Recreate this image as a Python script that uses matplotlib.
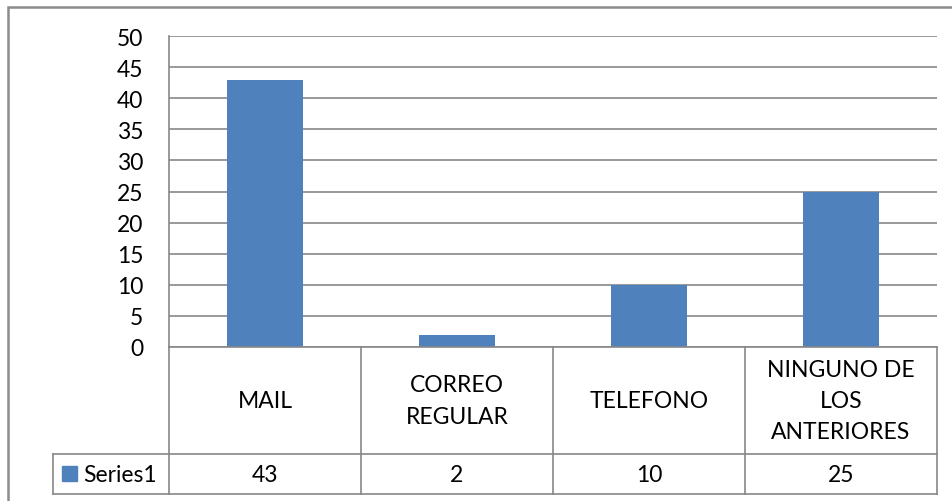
import matplotlib
matplotlib.use("Agg")
from matplotlib import pyplot as plt
from matplotlib.patches import Rectangle

categories = ["MAIL", "CORREO\nREGULAR", "TELEFONO", "NINGUNO DE\nLOS\nANTERIORES"]
values = [43, 2, 10, 25]
series_name = "Series1"
yticks = [0, 5, 10, 15, 20, 25, 30, 35, 40, 45, 50]

W, H = 953, 502
bar_color = "#4F81BD"
grid_color = "#878787"
fs = 16.5

plt.rcParams["font.family"] = ["Lato", "DejaVu Sans"]

fig = plt.figure(figsize=(W / 100, H / 100), dpi=100)


def fx(px):
    return px / W


def fy(py):
    return 1 - py / H


# plot area in pixels
left, right, top, bottom = 169, 937, 37, 348
row1, row2 = 455, 495
leg_left = 53

ax = fig.add_axes([fx(left), fy(bottom), fx(right) - fx(left), fy(top) - fy(bottom)])
x = list(range(len(categories)))
ax.bar(x, values, width=0.4, color=bar_color, zorder=3)
ax.set_xlim(-0.5, len(categories) - 0.5)
ax.set_ylim(0, 50)
ax.set_yticks(yticks)
ax.set_yticklabels([str(v) for v in yticks], fontsize=fs)
ax.tick_params(axis="y", length=0, pad=18.5)
ax.set_xticks([])
ax.yaxis.grid(True, color=grid_color, linewidth=1.2, zorder=0)
for s in ["top", "right", "bottom"]:
    ax.spines[s].set_visible(False)
ax.spines["left"].set_color(grid_color)
ax.spines["left"].set_linewidth(1.2)

# outer chart border (extends off the right/bottom of the image)
fig.patches.append(Rectangle((fx(8), fy(H + 20)), 1.2, fy(8) - fy(H + 20),
                             transform=fig.transFigure, fill=False,
                             edgecolor="#8c8c8c", linewidth=1.8))

# data table
lw = 1.2
edges = [left + (right - left) * i / len(categories) for i in range(len(categories) + 1)]


def hline(x0, x1, y):
    fig.add_artist(plt.Line2D([fx(x0), fx(x1)], [fy(y), fy(y)], color=grid_color, linewidth=lw))


def vline(x0, y0, y1):
    fig.add_artist(plt.Line2D([fx(x0), fx(x0)], [fy(y0), fy(y1)], color=grid_color, linewidth=lw))


hline(left, right, bottom)
hline(leg_left, right, row1)
hline(leg_left, right, row2)
vline(leg_left, row1, row2)
for e in edges:
    vline(e, bottom, row2)

for i, (cat, val) in enumerate(zip(categories, values)):
    cx = (edges[i] + edges[i + 1]) / 2
    fig.text(fx(cx), fy((bottom + row1) / 2), cat, ha="center", va="center",
             fontsize=fs, multialignment="center", linespacing=1.6)
    fig.text(fx(cx), fy((row1 + row2) / 2), str(val), ha="center", va="center", fontsize=fs)

fig.patches.append(Rectangle((fx(62), fy(482)), fx(15), fy(467) - fy(482),
                             transform=fig.transFigure, color=bar_color))
fig.text(fx(83), fy((row1 + row2) / 2), series_name, ha="left", va="center", fontsize=fs)

fig.savefig("out.png", dpi=100)
